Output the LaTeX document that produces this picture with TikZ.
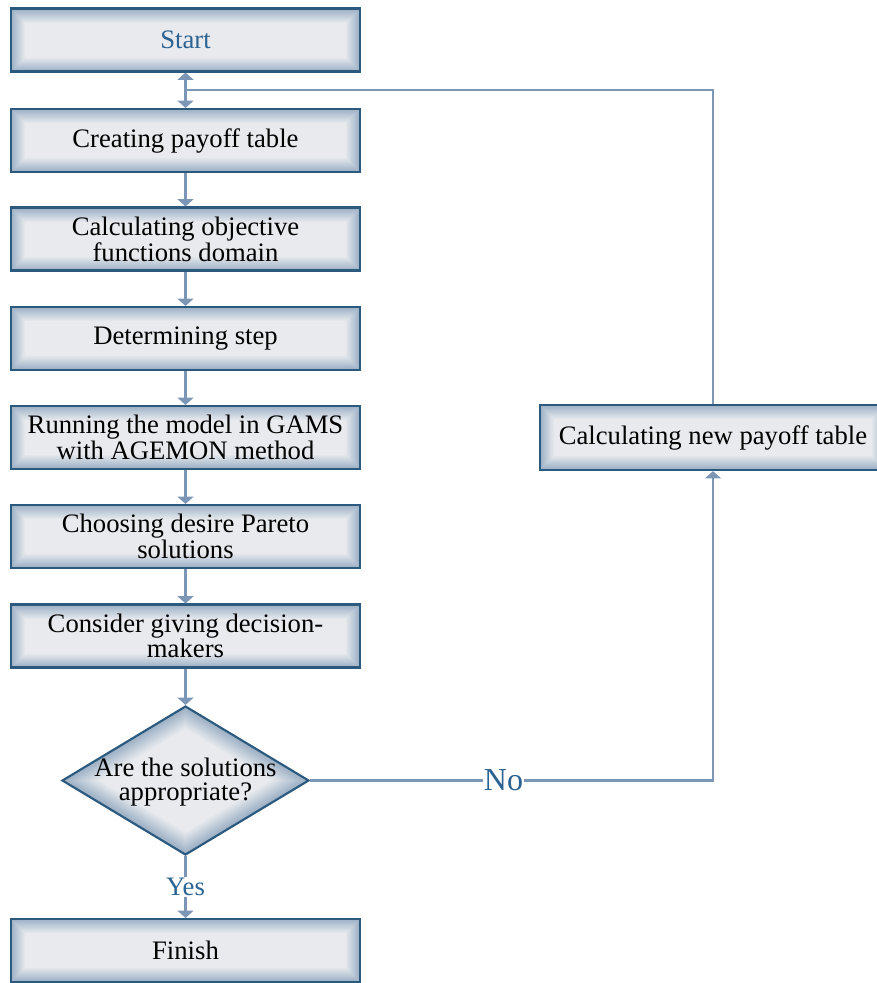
\documentclass[tikz,border=0pt]{standalone}
\usepackage{fontspec}
\setmainfont{Liberation Serif}
\usetikzlibrary{shapes.geometric,arrows.meta}
\definecolor{boxfill}{HTML}{E8EAEE}
\definecolor{boxedge}{HTML}{2C5A7E}
\definecolor{glow}{HTML}{6F8EAD}
\definecolor{arrowc}{HTML}{7C96B5}
\definecolor{labelblue}{HTML}{2B6393}
\begin{document}
\begin{tikzpicture}[x=0.75pt,y=-0.75pt,
  every node/.style={font=\fontsize{20}{18}\selectfont},
  glowrect/.style={path picture={
    \foreach \i in {1,...,14}{
      \pgfmathsetmacro\w{1.5*(15-\i)}
      \pgfmathsetmacro\c{4.5*\i}
      \draw[line width=\w pt, glow!\c!boxfill] (path picture bounding box.south west) rectangle (path picture bounding box.north east);}}},
  glowdiam/.style={path picture={
    \foreach \i in {1,...,14}{
      \pgfmathsetmacro\w{2*(15-\i)}
      \pgfmathsetmacro\c{4.5*\i}
      \draw[line width=\w pt, line join=miter, glow!\c!boxfill] (path picture bounding box.north) -- (path picture bounding box.east) -- (path picture bounding box.south) -- (path picture bounding box.west) -- cycle;}}},
  box/.style={rectangle, draw=boxedge, line width=1.6pt, fill=boxfill, glowrect,
    minimum width=261.75pt, minimum height=47.25pt, align=center, inner sep=0pt},
  decision/.style={diamond, draw=boxedge, line width=1.6pt, fill=boxfill, glowdiam,
    minimum width=185.25pt, minimum height=111.75pt, inner sep=0pt},
  txt/.style={align=center, inner sep=0pt},
  conn/.style={draw=arrowc, line width=2pt},
  arr/.style={conn, -{Triangle[width=12pt,length=5.5pt]}},
  lbl/.style={text=labelblue, fill=white, inner sep=1pt}
]
\useasboundingbox (0,0) rectangle (877,983);
\clip (0,0) rectangle (877,983);

\node[box, text=labelblue] (start) at (185.5,40) {Start};
\node[box] (create) at (185.5,140.5) {Creating payoff table};
\node[box] (calc) at (185.5,239) {Calculating objective\\functions domain};
\node[box] (det) at (185.5,338.5) {Determining step};
\node[box] (run) at (185.5,437.5) {Running the model in GAMS\\with AGEMON method};
\node[box] (choose) at (185.5,536.5) {Choosing desire Pareto\\solutions};
\node[box] (consider) at (185.5,636) {Consider giving decision-\\makers};
\node[decision] (dec) at (185.5,780.5) {};
\node[txt] (dectext) at (185.5,782) {Are the solutions\\appropriate?};
\node[box] (finish) at (185.5,950.5) {Finish};
\node[box, minimum height=48.75pt, minimum width=259.5pt] (newpay) at (713,437.5) {Calculating new payoff table};

\coordinate (j) at (185.5,90);
\draw[conn] (newpay.north) |- (j);
\draw[arr] (j) -- (start.south);
\draw[arr] (j) -- (create.north);
\draw[arr] (create) -- (calc);
\draw[arr] (calc) -- (det);
\draw[arr] (det) -- (run);
\draw[arr] (run) -- (choose);
\draw[arr] (choose) -- (consider);
\draw[arr] (consider) -- (dec.north);
\draw[arr] (dec.south) -- node[lbl] {Yes} (finish.north);
\draw[arr] (dec.east) -| node[lbl, pos=0.24, font=\fontsize{24}{24}\selectfont] {No} (newpay.south);
\end{tikzpicture}
\end{document}
